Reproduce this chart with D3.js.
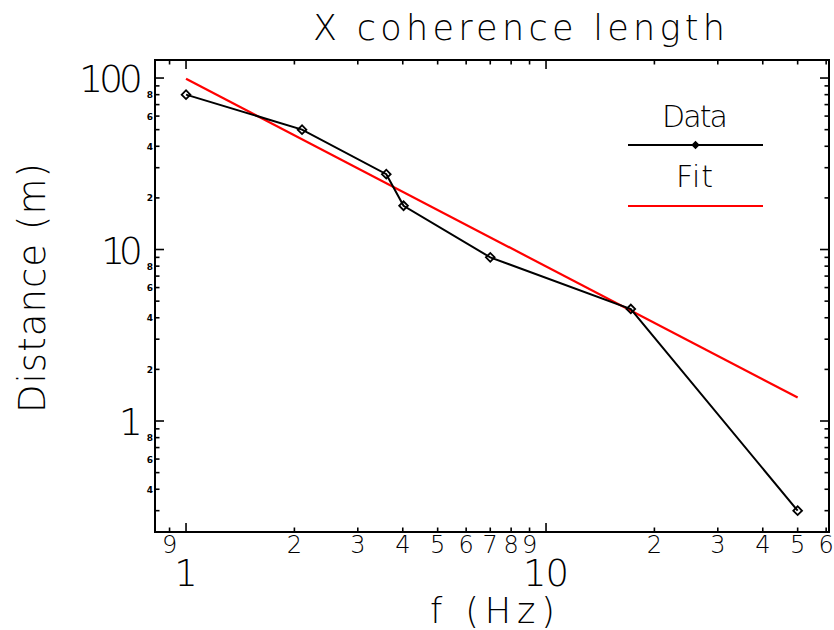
<!DOCTYPE html>
<html>
<head>
<meta charset="utf-8">
<script src="https://cdn.jsdelivr.net/npm/d3@7"></script>
<style>
  html, body { margin: 0; padding: 0; background: #fff; }
  svg { display: block; }
  text { font-family: "DejaVu Sans", sans-serif; font-weight: 200; fill: #000; }
</style>
</head>
<body>
<svg id="chart" width="834" height="630"></svg>
<script>
// Measured coherence length versus frequency
const freq = [1.0, 2.1, 3.6, 4.02, 7.0, 17.2, 50.0];
const dist = [80, 50, 27.5, 18, 9.0, 4.5, 0.30];

// Power-law fit, drawn between its end frequencies
const fitFreq = [1.0, 50.0];
const fitDist = [99, 1.37];

// Axis ranges and tick labels
const xDomain = [0.82, 61.1];
const yDomain = [0.2253, 127.4];
const xMajorLabels = { 1: "1", 10: "10" };
const yMajorLabels = { 1: "1", 10: "10", 100: "100" };
const xMinorLabelDigits = [2, 3, 4, 5, 6, 7, 8, 9];
const yMinorLabelDigits = [2, 4, 6, 8];

const titleText = "X coherence length";
const xTitle = "f (Hz)";
const yTitle = "Distance (m)";
const legendItems = ["Data", "Fit"];

const svg = d3.select("#chart");
const L = 155, R = 829, T = 60, B = 532;

const x = d3.scaleLog().domain(xDomain).range([L, R]);
const y = d3.scaleLog().domain(yDomain).range([B, T]);

const lead = v => Math.round(v / Math.pow(10, Math.floor(Math.log10(v) + 1e-9)));
const isMajor = v => lead(v) === 1;

// Text helper that spreads glyphs across a fixed width (wide vector-font look)
function spread(sel, width) {
  return sel.attr("textLength", width).attr("lengthAdjust", "spacing");
}

// Frame
svg.append("rect")
  .attr("x", L).attr("y", T).attr("width", R - L).attr("height", B - T)
  .attr("fill", "none").attr("stroke", "#000").attr("stroke-width", 2);

const majorLen = 9, minorLen = 4.5;
const tickG = svg.append("g").attr("stroke", "#000").attr("stroke-width", 1.6);

// X ticks on bottom and top, pointing inward
x.ticks().forEach(v => {
  const px = x(v), len = isMajor(v) ? majorLen : minorLen;
  tickG.append("line").attr("x1", px).attr("x2", px).attr("y1", B).attr("y2", B - len);
  tickG.append("line").attr("x1", px).attr("x2", px).attr("y1", T).attr("y2", T + len);
});
// Y ticks on left and right, pointing inward
y.ticks().forEach(v => {
  const py = y(v), len = isMajor(v) ? majorLen : minorLen;
  tickG.append("line").attr("y1", py).attr("y2", py).attr("x1", L).attr("x2", L + len);
  tickG.append("line").attr("y1", py).attr("y2", py).attr("x1", R).attr("x2", R - len);
});

// X tick labels: small digits for minor ticks, large numbers below for decades
x.ticks().forEach(v => {
  if (isMajor(v)) {
    const lab = xMajorLabels[Math.round(v)];
    const t = svg.append("text")
      .attr("x", x(v)).attr("y", 586)
      .attr("text-anchor", "middle").style("font-size", "37px").text(lab);
    if (lab.length > 1) spread(t, 46);
  } else if (xMinorLabelDigits.includes(lead(v)) || v < 1) {
    svg.append("text")
      .attr("x", x(v)).attr("y", 553)
      .attr("text-anchor", "middle").style("font-size", "24px").text(lead(v));
  }
});

// Y tick labels: large numbers at decades, tiny even digits between
y.ticks().forEach(v => {
  if (isMajor(v)) {
    const lab = yMajorLabels[Math.round(v)];
    const t = svg.append("text")
      .attr("x", 143).attr("y", y(v) + 14)
      .attr("text-anchor", "end").style("font-size", "38px").text(lab);
    if (lab.length > 1) spread(t, lab.length * 22 - 2);
  } else if (yMinorLabelDigits.includes(lead(v))) {
    svg.append("text")
      .attr("x", 153).attr("y", y(v) + 3.5)
      .attr("text-anchor", "end")
      .style("font-size", "9px").style("font-weight", "bold").text(lead(v));
  }
});

// Titles
spread(svg.append("text").attr("x", 313).attr("y", 40)
  .style("font-size", "35px").text(titleText), 412);
spread(svg.append("text").attr("x", 430).attr("y", 623)
  .style("font-size", "35px").text(xTitle), 125);
spread(svg.append("text")
  .attr("transform", "translate(45,413) rotate(-90)")
  .style("font-size", "37px").text(yTitle), 250);

// Data series
const line = d3.line().x(d => x(d[0])).y(d => y(d[1]));
const dataPts = freq.map((f, i) => [f, dist[i]]);
const fitPts = fitFreq.map((f, i) => [f, fitDist[i]]);

svg.append("path").datum(fitPts).attr("d", line)
  .attr("fill", "none").attr("stroke", "#ff0000").attr("stroke-width", 2.2);

svg.append("path").datum(dataPts).attr("d", line)
  .attr("fill", "none").attr("stroke", "#000").attr("stroke-width", 2);

const diamond = d3.symbol().type(d3.symbolSquare).size(38);
svg.append("g").selectAll("path").data(dataPts).join("path")
  .attr("d", diamond)
  .attr("transform", d => `translate(${x(d[0])},${y(d[1])}) rotate(45)`)
  .attr("fill", "none").attr("stroke", "#000").attr("stroke-width", 1.8);

// Legend
const lg = svg.append("g");
const lx0 = 628, lx1 = 763, lcx = (lx0 + lx1) / 2;
spread(lg.append("text").attr("x", 662).attr("y", 127)
  .style("font-size", "30px").text(legendItems[0]), 66);
lg.append("line").attr("x1", lx0).attr("x2", lx1).attr("y1", 145).attr("y2", 145)
  .attr("stroke", "#000").attr("stroke-width", 2);
lg.append("path").attr("d", d3.symbol().type(d3.symbolSquare).size(20))
  .attr("transform", `translate(${lcx},145) rotate(45)`)
  .attr("fill", "#000").attr("stroke", "#000").attr("stroke-width", 1.5);
spread(lg.append("text").attr("x", 676).attr("y", 187)
  .style("font-size", "30px").text(legendItems[1]), 37);
lg.append("line").attr("x1", lx0).attr("x2", lx1).attr("y1", 206).attr("y2", 206)
  .attr("stroke", "#ff0000").attr("stroke-width", 2.2);
</script>
</body>
</html>
